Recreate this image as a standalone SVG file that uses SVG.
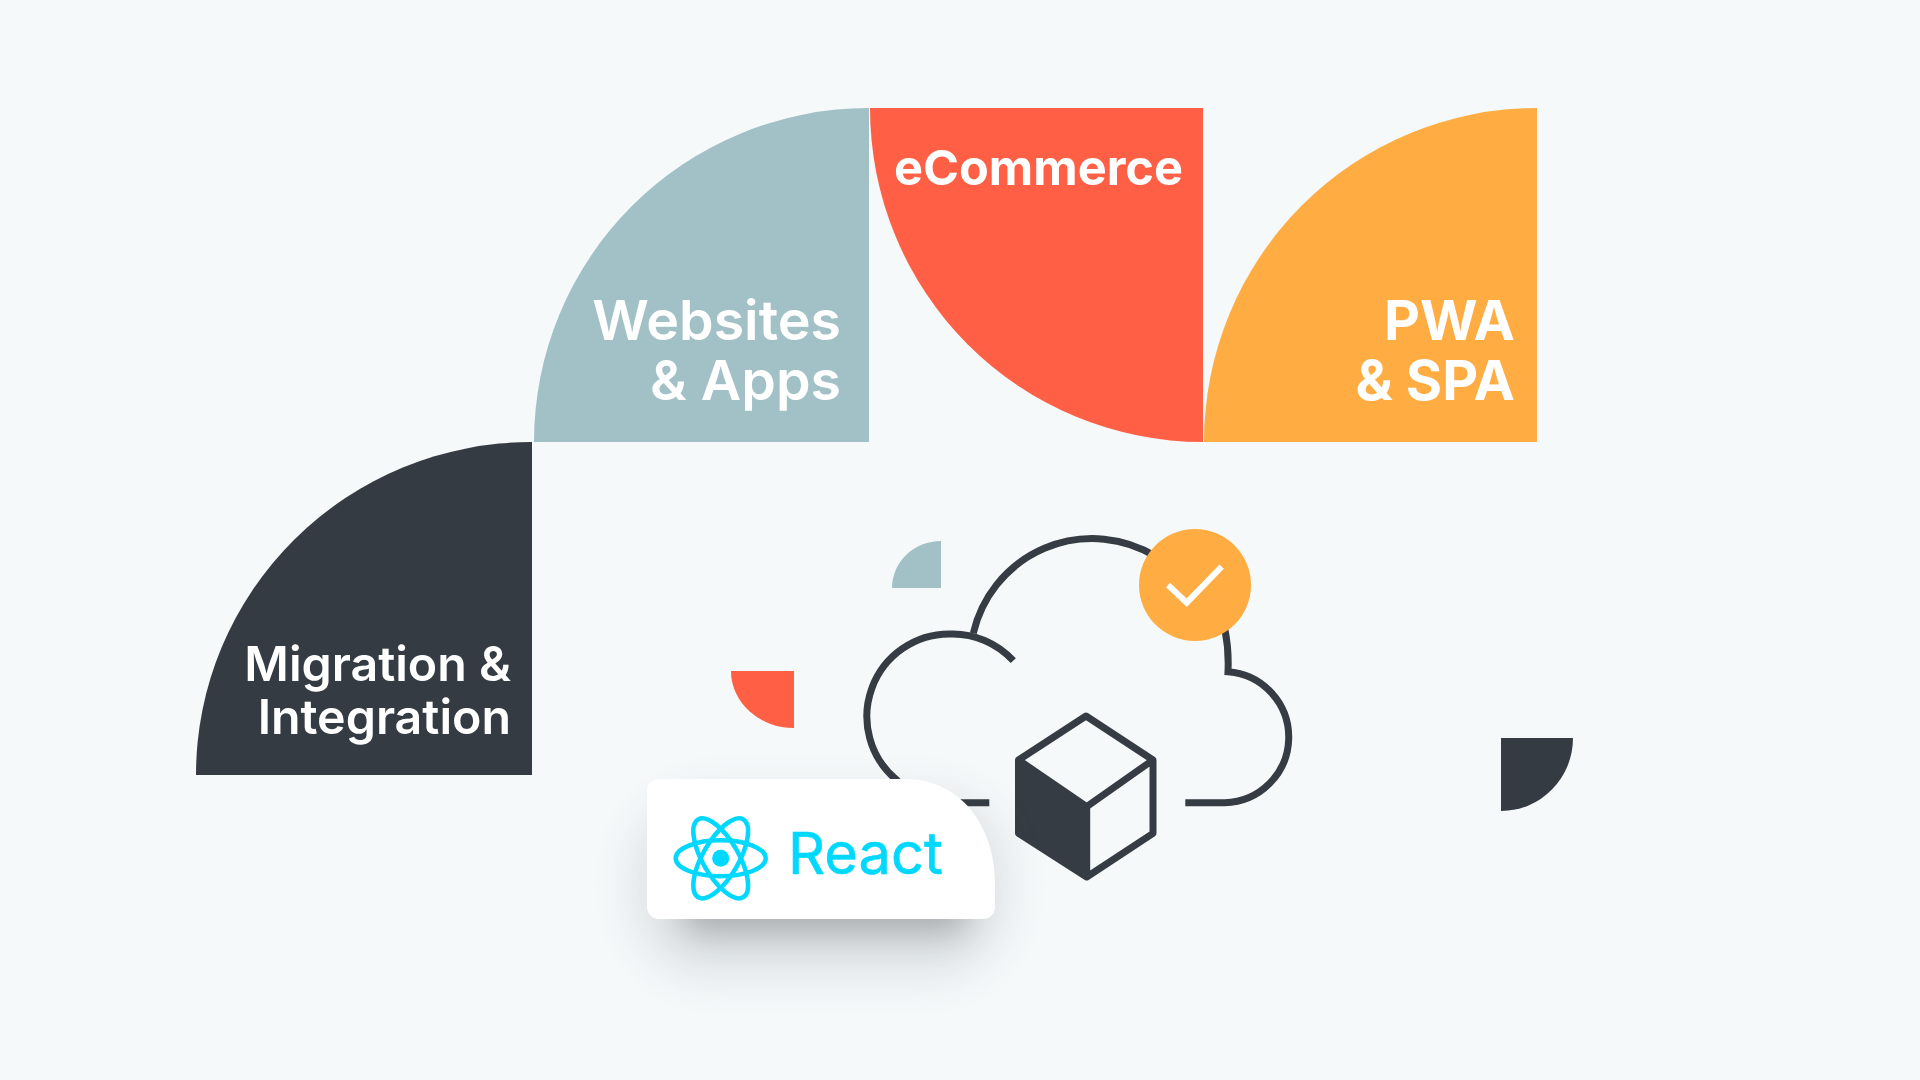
<svg xmlns="http://www.w3.org/2000/svg" width="1920" height="1080" viewBox="0 0 1920 1080">
<defs>
<style>
.label{font-family:"Inter","Liberation Sans",sans-serif;font-weight:600;fill:#fff;text-anchor:end}
.big{font-size:55.500px}
.mid{font-size:48.300px}
.line{fill:none;stroke:#353c43;stroke-width:7}
.orbit{fill:none;stroke:#00d8ff;stroke-width:4.500}
</style>
<filter id="soft" x="-30%" y="-60%" width="160%" height="220%"><feGaussianBlur stdDeviation="20"/></filter>
<filter id="softer" x="-30%" y="-60%" width="160%" height="220%"><feGaussianBlur stdDeviation="16"/></filter>
</defs>
<rect width="1920" height="1080" fill="#f5f9fa"/>
<g id="migration"><path d="M532 442V775H196A336 333 0 0 1 532 442Z" fill="#343b42"/><text class="label mid"><tspan x="511" y="681">Migration &amp;</tspan><tspan x="511" y="734">Integration</tspan></text></g>
<g id="websites"><path d="M869 108V442H534A335 334 0 0 1 869 108Z" fill="#a2c1c6"/><text class="label big"><tspan x="841" y="340">Websites</tspan><tspan x="841" y="400">&amp; Apps</tspan></text></g>
<g id="ecommerce"><path d="M870 108H1203V442A333 334 0 0 1 870 108Z" fill="#ff5f45"/><text class="label" x="1183" y="185" style="font-weight:700;font-size:48.700px">eCommerce</text></g>
<g id="pwa"><path d="M1537 108V442H1204A333 334 0 0 1 1537 108Z" fill="#ffad42"/><text class="label big" style="font-weight:700"><tspan x="1515" y="340">PWA</tspan><tspan x="1515" y="400">&amp; SPA</tspan></text></g>
<g id="accent-teal"><path d="M941 541V588H892A49 47 0 0 1 941 541Z" fill="#a2c1c6"/></g>
<g id="accent-red"><path d="M731 671H794V728A63 57 0 0 1 731 671Z" fill="#ff5f45"/></g>
<g id="accent-dark"><path d="M1501 738H1573A72 73 0 0 1 1501 811Z" fill="#343b42"/></g>
<g id="cloud">
<path class="line" d="M1013.300 660.700A82 82 0 0 0 950 634A82.500 82.500 0 0 0 896.700 780Q915 803 950 802.700H989.300"/>
<path class="line" d="M973.300 633.300A122 122 0 0 1 1155 556"/>
<path class="line" d="M1185.300 802.700H1224.700A65.600 65.600 0 0 0 1228 671.700Q1229 650 1225 630"/>
<circle cx="1195" cy="585" r="56" fill="#ffad42"/>
<path d="M1168 585L1186.700 602.700L1221.700 566.700" fill="none" stroke="#fff" stroke-width="6"/>
</g>
<g id="cube">
<path d="M1018.500 760L1086.700 806.700V877L1018.500 833.300Z" fill="#353c43"/>
<path class="line" stroke-linejoin="round" d="M1086 716L1153 760V833.300L1086.700 877L1018.500 833.300V760ZM1018.500 760L1086.700 806.700L1153 760M1086.700 806.700V877"/>
</g>
<g id="react-card">
<rect x="630" y="790" width="380" height="190" rx="80" fill="#343b42" opacity=".1" filter="url(#soft)"/>
<rect x="680" y="870" width="290" height="65" rx="25" fill="#343b42" opacity=".3" filter="url(#softer)"/>
<path d="M659 779H905C960 779 995 825 995 885V907A12 12 0 0 1 983 919H659A12 12 0 0 1 647 907V791A12 12 0 0 1 659 779Z" fill="#fff"/>
<circle cx="720.700" cy="858.300" r="8.500" fill="#00d8ff"/>
<ellipse class="orbit" cx="720.700" cy="858.300" rx="45" ry="18"/>
<ellipse class="orbit" cx="720.700" cy="858.300" rx="45" ry="18" transform="rotate(60 720.700 858.300)"/>
<ellipse class="orbit" cx="720.700" cy="858.300" rx="45" ry="18" transform="rotate(120 720.700 858.300)"/>
<text x="788" y="874" font-family="Inter,'Open Sans',sans-serif" font-size="58" fill="#00d8ff" stroke="#00d8ff" stroke-width=".6" textLength="155" lengthAdjust="spacingAndGlyphs">React</text>
</g>
</svg>
